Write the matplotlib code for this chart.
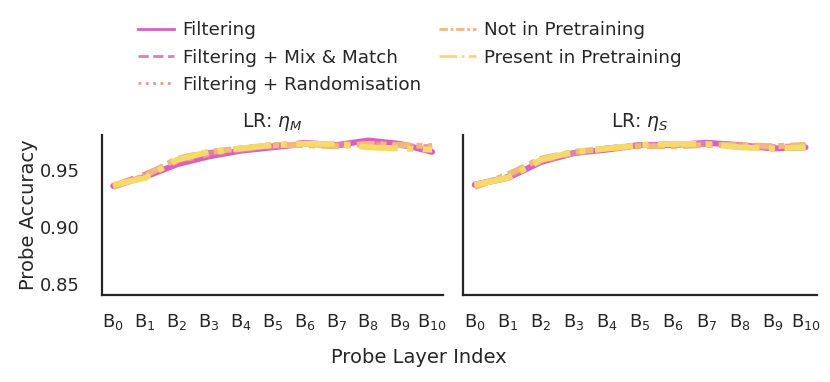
import numpy as np
import matplotlib
matplotlib.use("Agg")
import matplotlib.pyplot as plt
from matplotlib.lines import Line2D

# probe layers B0..B10
layers = list(range(11))
tick_labels = [r"B$_{%d}$" % i for i in layers]

series_names = ["Filtering", "Filtering + Mix & Match", "Filtering + Randomisation",
                "Not in Pretraining", "Present in Pretraining"]
colors = ["#d95fc2", "#e07fa8", "#eb998a", "#efb87c", "#f5d96c"]
styles = ["-", "--", ":", (0, (3, 1, 1, 1)), "-."]

# LR: eta_M
acc_m = [
    [0.936, 0.944, 0.955, 0.962, 0.967, 0.970, 0.973, 0.972, 0.976, 0.973, 0.966],
    [0.936, 0.946, 0.958, 0.965, 0.968, 0.971, 0.974, 0.972, 0.973, 0.972, 0.968],
    [0.936, 0.945, 0.958, 0.964, 0.969, 0.972, 0.973, 0.973, 0.972, 0.971, 0.970],
    [0.935, 0.945, 0.960, 0.966, 0.969, 0.972, 0.972, 0.971, 0.973, 0.972, 0.971],
    [0.937, 0.943, 0.959, 0.966, 0.969, 0.972, 0.973, 0.973, 0.970, 0.969, 0.968],
]
# LR: eta_S
acc_s = [
    [0.937, 0.943, 0.957, 0.965, 0.968, 0.972, 0.972, 0.974, 0.972, 0.969, 0.970],
    [0.937, 0.944, 0.958, 0.965, 0.969, 0.972, 0.973, 0.973, 0.971, 0.970, 0.971],
    [0.936, 0.944, 0.958, 0.965, 0.969, 0.972, 0.972, 0.973, 0.972, 0.970, 0.971],
    [0.935, 0.946, 0.960, 0.966, 0.969, 0.971, 0.971, 0.972, 0.972, 0.971, 0.972],
    [0.937, 0.943, 0.959, 0.966, 0.969, 0.972, 0.973, 0.973, 0.970, 0.969, 0.970],
]
titles = [r"LR: $\eta_M$", r"LR: $\eta_S$"]

plt.rcParams["font.family"] = "DejaVu Sans"
plt.rcParams["text.color"] = "#262626"
plt.rcParams["axes.labelcolor"] = "#262626"
plt.rcParams["xtick.color"] = "#262626"
plt.rcParams["ytick.color"] = "#262626"

fig = plt.figure(figsize=(8.3, 3.82), dpi=100)
ax1 = fig.add_axes([0.123, 0.228, 0.411, 0.419])
ax2 = fig.add_axes([0.558, 0.228, 0.4265, 0.419], sharey=ax1)

for ax, data, title in zip([ax1, ax2], [acc_m, acc_s], titles):
    for vals, c, ls in zip(data, colors, styles):
        ax.plot(layers, vals, color=c, linestyle=ls, lw=4.3, solid_capstyle="round")
    ax.set_title(title, fontsize=13.5, pad=6)
    ax.set_xticks(layers)
    ax.set_xticklabels(tick_labels)
    ax.set_xlim(-0.35, 10.35)
    ax.set_ylim(0.84, 0.981)
    ax.set_yticks([0.85, 0.90, 0.95])
    ax.tick_params(axis="x", length=0, pad=12, labelsize=13)
    ax.tick_params(axis="y", length=0, pad=16, labelsize=13)
    for s in ["top", "right"]:
        ax.spines[s].set_visible(False)
    for s in ["left", "bottom"]:
        ax.spines[s].set_linewidth(1.6)
        ax.spines[s].set_color("#262626")

ax2.tick_params(labelleft=False)
ax1.set_ylabel("Probe Accuracy", fontsize=14, labelpad=1)
fig.text(0.505, 0.05, "Probe Layer Index", ha="center", fontsize=14)

handles = [Line2D([], [], color=c, linestyle=ls, lw=2.0) for c, ls in zip(colors, styles)]
fig.legend(handles, series_names, loc="upper left", bbox_to_anchor=(0.157, 0.963),
           ncol=2, frameon=False, fontsize=13.2, handlelength=2.0, handletextpad=0.45,
           columnspacing=1.0, labelspacing=0.5, borderaxespad=0)

fig.savefig("out.png", dpi=100)
